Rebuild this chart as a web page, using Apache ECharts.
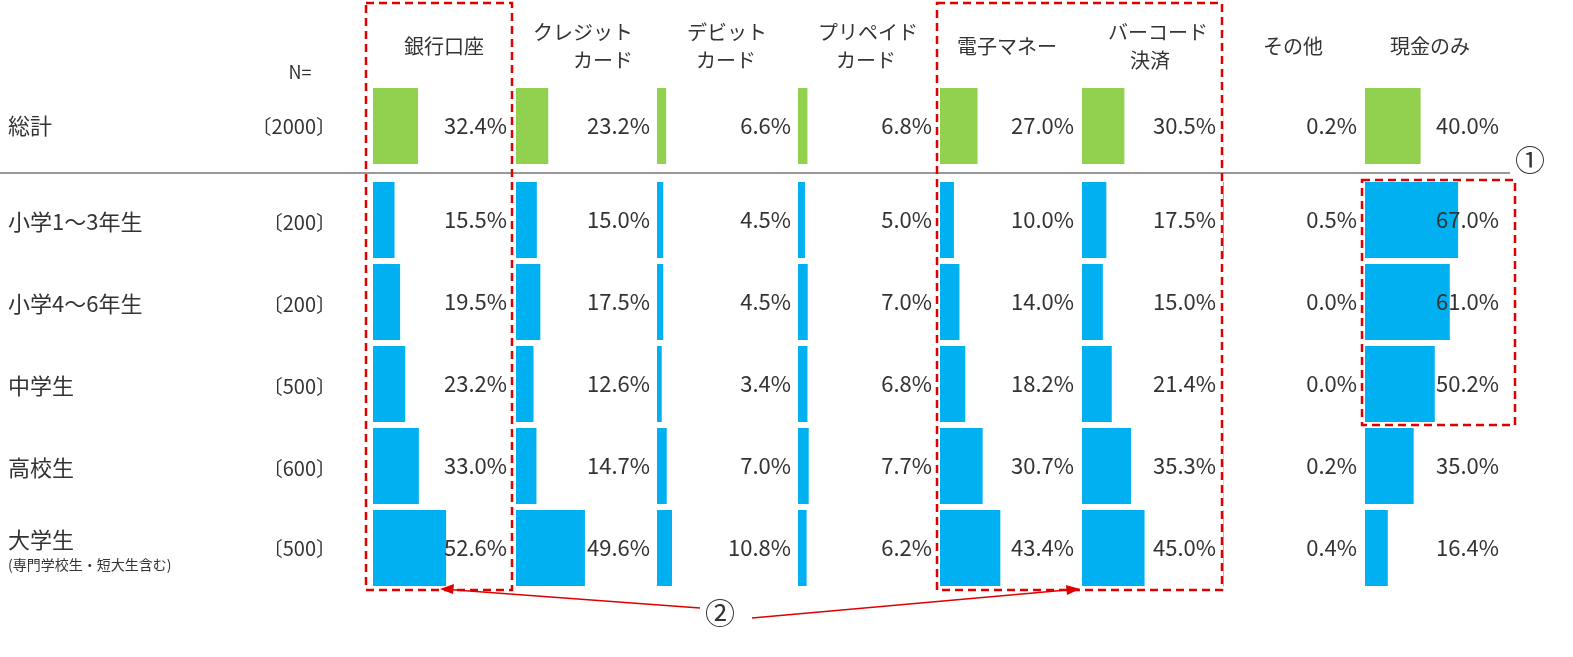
<!DOCTYPE html><html><head><meta charset="utf-8">
<script src="https://cdn.jsdelivr.net/npm/echarts@6/dist/echarts.min.js"></script>
<style>html,body{margin:0;background:#fff}#c{width:1573px;height:657px}</style></head><body><div id="c"></div><script>
const columns=['銀行口座','クレジットカード','デビットカード','プリペイドカード','電子マネー','バーコード決済','その他','現金のみ'];
const groups=['小学1～3年生','小学4～6年生','中学生','高校生','大学生'];
const groupN=['〔200〕','〔200〕','〔500〕','〔600〕','〔500〕'];
const totalN='〔2000〕';
const totalValues=[32.4,23.2,6.6,6.8,27.0,30.5,0.2,40.0];
const groupValues=[
 [15.5,15.0,4.5,5.0,10.0,17.5,0.5,67.0],
 [19.5,17.5,4.5,7.0,14.0,15.0,0.0,61.0],
 [23.2,12.6,3.4,6.8,18.2,21.4,0.0,50.2],
 [33.0,14.7,7.0,7.7,30.7,35.3,0.2,35.0],
 [52.6,49.6,10.8,6.2,43.4,45.0,0.4,16.4]];
const colX=[373,516,657,798,940,1082,1223,1365];
const F='"Noto Sans CJK JP","Noto Sans",sans-serif';
const grid=[],xAxis=[],yAxis=[],series=[];
function addGrid(left,top,h,cats,vals,color){
 const i=grid.length;
 grid.push({left:left,top:top,width:139,height:h});
 xAxis.push({gridIndex:i,type:'value',min:0,max:100,show:false});
 yAxis.push({gridIndex:i,type:'category',data:cats,inverse:true,show:false});
 series.push({type:'bar',xAxisIndex:i,yAxisIndex:i,data:vals,barWidth:76,itemStyle:{color:color},silent:true,z:2});
 series.push({type:'bar',xAxisIndex:i,yAxisIndex:i,data:vals.map(()=>100),barWidth:76,barGap:'-100%',itemStyle:{color:'rgba(0,0,0,0)'},silent:true,z:3,
  label:{show:true,position:'insideRight',distance:5,color:'#333',fontSize:22,fontFamily:F,formatter:p=>vals[p.dataIndex].toFixed(1)+'%'}});
}
colX.forEach((x,c)=>{
 addGrid(x,88,76,['総計'],[totalValues[c]],'#92D050');
 addGrid(x,179,410,groups,groupValues.map(r=>r[c]),'#00B0F0');
});
const g=[];
function t(x,y,s,o){g.push({type:'text',x:x,y:y,style:Object.assign({text:s,fill:'#333',font:'20px '+F,textAlign:'center',textVerticalAlign:'middle'},o||{})});}
const hdr=[[444,46,'銀行口座'],[583,32,'クレジット'],[603,60,'カード'],[727,32,'デビット'],[726,60,'カード'],[868,32,'プリペイド'],[866,60,'カード'],[1007,46,'電子マネー'],[1158,32,'バーコード'],[1150,60,'決済'],[1293,46,'その他'],[1430,46,'現金のみ']];
hdr.forEach(h=>t(h[0],h[1],h[2]));
t(300,72,'N=',{font:'18px '+F});
t(8,126,'総計',{textAlign:'left',font:'22px '+F});
t(336,126,totalN,{textAlign:'right'});
const rowY=[222,304,386,468,540];
groups.forEach((s,i)=>{t(8,rowY[i],s,{textAlign:'left',font:'22px '+F});t(336,i==4?548:rowY[i],groupN[i],{textAlign:'right'});});
t(8,565,'(専門学校生・短大生含む)',{textAlign:'left',font:'14px '+F});
g.push({type:'line',shape:{x1:0,y1:173,x2:1510,y2:173},style:{stroke:'#333',lineWidth:1}});
const dash={stroke:'#E00000',lineWidth:2.5,lineDash:[8,5],fill:null};
g.push({type:'rect',shape:{x:366,y:3,width:146,height:587},style:dash});
g.push({type:'rect',shape:{x:937,y:3,width:285,height:587},style:dash});
g.push({type:'rect',shape:{x:1362,y:180,width:153,height:245},style:dash});
t(1530,160,'①',{font:'30px '+F});
t(720,613,'②',{font:'30px '+F});
const arr={stroke:'#E00000',lineWidth:1.5};
g.push({type:'line',shape:{x1:700,y1:608,x2:442,y2:589},style:arr});
g.push({type:'line',shape:{x1:752,y1:618,x2:1078,y2:589},style:arr});
g.push({type:'polygon',shape:{points:[[440,589],[454,584],[453,594]]},style:{fill:'#E00000'}});
g.push({type:'polygon',shape:{points:[[1080,589],[1066,585],[1067,595]]},style:{fill:'#E00000'}});
const ch=echarts.init(document.getElementById('c'));
ch.setOption({animation:false,grid,xAxis,yAxis,series,graphic:g});
</script></body></html>
